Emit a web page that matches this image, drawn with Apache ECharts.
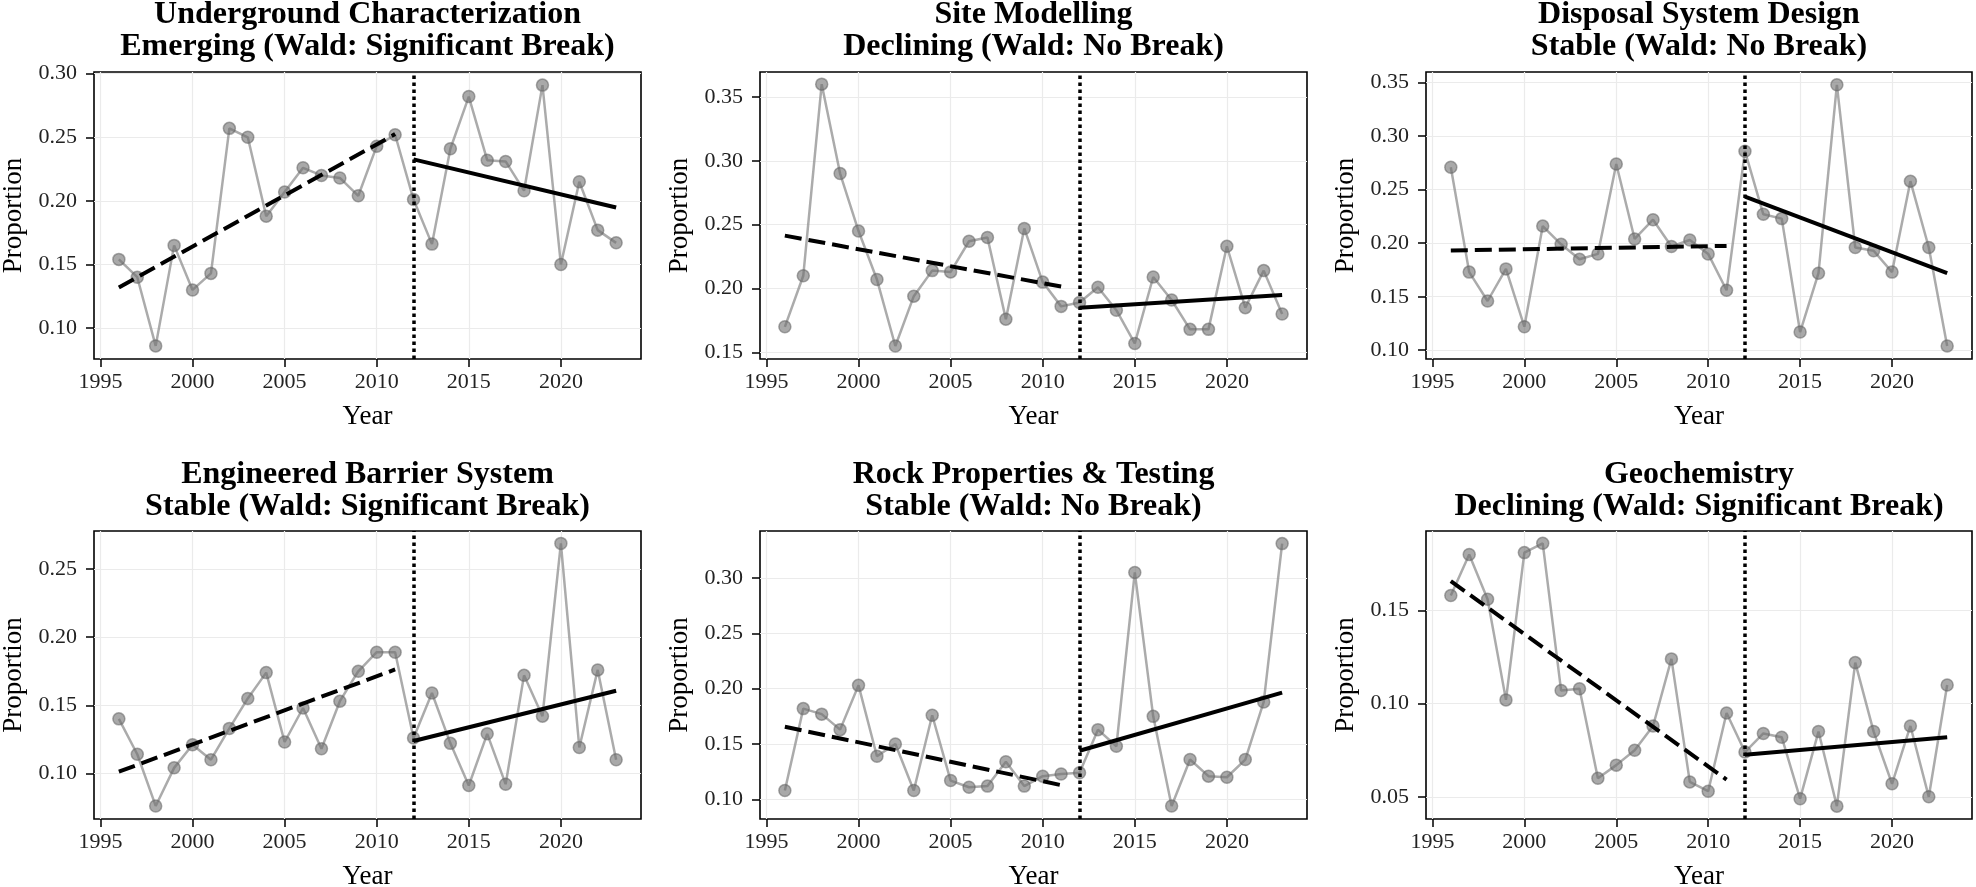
<!DOCTYPE html>
<html><head><meta charset="utf-8">
<script src="https://cdn.jsdelivr.net/npm/echarts@6/dist/echarts.min.js"></script>
<style>html,body{margin:0;padding:0;background:#fff}#c{width:1976px;height:887px}</style>
</head><body><div id="c"></div>
<script>
// ---------- DATA ----------
const years = [1996,1997,1998,1999,2000,2001,2002,2003,2004,2005,2006,2007,2008,2009,2010,2011,2012,2013,2014,2015,2016,2017,2018,2019,2020,2021,2022,2023];
const breakYear = 2012;
const preYears = [1996, 2011];
const postYears = [2012, 2023];
const xTicks = [1995, 2000, 2005, 2010, 2015, 2020];

const titles = [
  "Underground Characterization\nEmerging (Wald: Significant Break)",
  "Site Modelling\nDeclining (Wald: No Break)",
  "Disposal System Design\nStable (Wald: No Break)",
  "Engineered Barrier System\nStable (Wald: Significant Break)",
  "Rock Properties & Testing\nStable (Wald: No Break)",
  "Geochemistry\nDeclining (Wald: Significant Break)"
];

const undergroundValues = [0.154,0.140,0.086,0.165,0.130,0.143,0.257,0.250,0.188,0.207,0.226,0.220,0.218,0.204,0.243,0.252,0.201,0.166,0.241,0.282,0.232,0.231,0.208,0.291,0.150,0.215,0.177,0.167];
const undergroundPre = [0.132, 0.2525];
const undergroundPost = [0.2326, 0.1948];
const undergroundYTicks = [0.10, 0.15, 0.20, 0.25, 0.30];

const siteValues = [0.170,0.210,0.360,0.290,0.245,0.207,0.155,0.194,0.214,0.213,0.237,0.240,0.176,0.247,0.205,0.186,0.189,0.201,0.183,0.157,0.209,0.191,0.168,0.168,0.233,0.185,0.214,0.180];
const sitePre = [0.2414, 0.2015];
const sitePost = [0.185, 0.195];
const siteYTicks = [0.15, 0.20, 0.25, 0.30, 0.35];

const disposalValues = [0.271,0.173,0.146,0.176,0.122,0.216,0.199,0.185,0.190,0.274,0.204,0.222,0.197,0.203,0.190,0.156,0.286,0.227,0.223,0.117,0.172,0.348,0.196,0.193,0.173,0.258,0.196,0.104];
const disposalPre = [0.1932, 0.1975];
const disposalPost = [0.2435, 0.172];
const disposalYTicks = [0.10, 0.15, 0.20, 0.25, 0.30, 0.35];

const barrierValues = [0.140,0.114,0.076,0.104,0.121,0.110,0.133,0.155,0.174,0.123,0.148,0.118,0.153,0.175,0.189,0.189,0.126,0.159,0.122,0.091,0.129,0.092,0.172,0.142,0.269,0.119,0.176,0.110];
const barrierPre = [0.1012, 0.1763];
const barrierPost = [0.1237, 0.1607];
const barrierYTicks = [0.10, 0.15, 0.20, 0.25];

const rockValues = [0.108,0.182,0.177,0.163,0.203,0.139,0.150,0.108,0.176,0.117,0.111,0.112,0.134,0.112,0.121,0.123,0.124,0.163,0.148,0.305,0.175,0.094,0.136,0.121,0.120,0.136,0.188,0.331];
const rockPre = [0.1656, 0.1129];
const rockPost = [0.1439, 0.1965];
const rockYTicks = [0.10, 0.15, 0.20, 0.25, 0.30];

const geoValues = [0.158,0.180,0.156,0.102,0.181,0.186,0.107,0.108,0.060,0.067,0.075,0.088,0.124,0.058,0.053,0.095,0.074,0.084,0.082,0.049,0.085,0.045,0.122,0.085,0.057,0.088,0.050,0.110];
const geoPre = [0.1657, 0.0592];
const geoPost = [0.0726, 0.082];
const geoYTicks = [0.05, 0.10, 0.15];

// ---------- LAYOUT ----------
const panels = [
  {vals: undergroundValues, pre: undergroundPre, post: undergroundPost, yt: undergroundYTicks, ymin: 0.0757, ymax: 0.3013},
  {vals: siteValues, pre: sitePre, post: sitePost, yt: siteYTicks, ymin: 0.1448, ymax: 0.3695},
  {vals: disposalValues, pre: disposalPre, post: disposalPost, yt: disposalYTicks, ymin: 0.0918, ymax: 0.3600},
  {vals: barrierValues, pre: barrierPre, post: barrierPost, yt: barrierYTicks, ymin: 0.0664, ymax: 0.2781},
  {vals: rockValues, pre: rockPre, post: rockPost, yt: rockYTicks, ymin: 0.0823, ymax: 0.3424},
  {vals: geoValues, pre: geoPre, post: geoPost, yt: geoYTicks, ymin: 0.0381, ymax: 0.1926}
];
const colLeft = [94, 760, 1426];
const colWidth = [547, 547, 546];
const rowTop = [72, 531];
const rowHeight = [287, 288];
const titleTop = [-1, 459];

const FONT = "'Liberation Serif', 'Times New Roman', serif";
const grids = [], xAxes = [], yAxes = [], series = [], titleArr = [];

panels.forEach((p, i) => {
  const c = i % 3, r = Math.floor(i / 3);
  grids.push({left: colLeft[c], top: rowTop[r], width: colWidth[c], height: rowHeight[r],
    show: true, borderColor: '#000', borderWidth: 1.6, backgroundColor: 'transparent', containLabel: false, outerBoundsMode: 'none'});
  titleArr.push({text: titles[i], left: colLeft[c] + colWidth[c] / 2, top: titleTop[r], textAlign: 'center',
    textStyle: {fontFamily: FONT, fontWeight: 'bold', fontSize: 32, lineHeight: 32, color: '#000'}, padding: 0});
  xAxes.push({type: 'value', gridIndex: i, min: 1994.65, max: 2024.35,
    name: 'Year', nameLocation: 'middle', nameGap: 44,
    nameTextStyle: {fontFamily: FONT, fontSize: 27, color: '#000'},
    axisLine: {show: false},
    axisTick: {show: true, length: 8, lineStyle: {color: '#000', width: 1.5}, customValues: xTicks},
    axisLabel: {customValues: xTicks, fontFamily: FONT, fontSize: 22, color: '#222', margin: 12, formatter: v => String(v)},
    splitLine: {show: true, lineStyle: {color: '#ebebeb', width: 1.2}}
  });
  yAxes.push({type: 'value', gridIndex: i, min: p.ymin, max: p.ymax,
    name: 'Proportion', nameLocation: 'middle', nameGap: 67, nameRotate: 90,
    nameTextStyle: {fontFamily: FONT, fontSize: 27, color: '#000'},
    axisLine: {show: false},
    axisTick: {show: true, length: 8, lineStyle: {color: '#000', width: 1.5}, customValues: p.yt},
    axisLabel: {customValues: p.yt, fontFamily: FONT, fontSize: 22, color: '#222', margin: 17, formatter: v => v.toFixed(2)},
    splitLine: {show: true, lineStyle: {color: '#ebebeb', width: 1.2}}
  });
  series.push({type: 'line', xAxisIndex: i, yAxisIndex: i, z: 2,
    data: years.map((y, k) => [y, p.vals[k]]),
    symbol: 'circle', symbolSize: 12,
    lineStyle: {color: 'rgba(150,150,150,0.8)', width: 2.5},
    itemStyle: {color: 'rgba(112,112,112,0.6)', borderColor: 'rgba(100,100,100,0.55)', borderWidth: 1.5},
    emphasis: {disabled: true},
    markLine: {silent: true, symbol: 'none', label: {show: false},
      lineStyle: {color: '#000', type: [3.5, 3.5], width: 3.5}, data: [{xAxis: breakYear}]}
  });
  series.push({type: 'line', xAxisIndex: i, yAxisIndex: i, z: 3,
    data: preYears.map((y, k) => [y, p.pre[k]]), symbol: 'none',
    lineStyle: {color: '#000', width: 4, type: [17, 7]}, emphasis: {disabled: true}});
  series.push({type: 'line', xAxisIndex: i, yAxisIndex: i, z: 3,
    data: postYears.map((y, k) => [y, p.post[k]]), symbol: 'none',
    lineStyle: {color: '#000', width: 4}, emphasis: {disabled: true}});
});

const chart = echarts.init(document.getElementById('c'), null, {renderer: 'canvas'});
chart.setOption({animation: false, backgroundColor: '#fff', title: titleArr, grid: grids, xAxis: xAxes, yAxis: yAxes, series: series});
</script></body></html>
